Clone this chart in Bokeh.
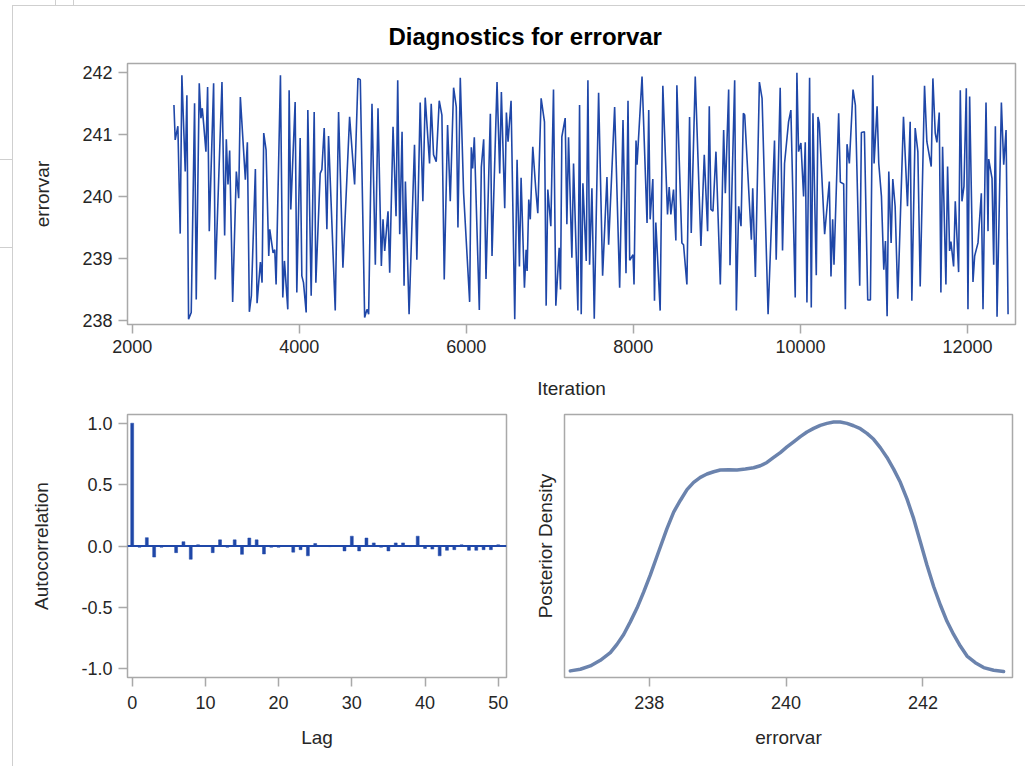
from bokeh.plotting import figure
from bokeh.layouts import column, row
from bokeh.models import FixedTicker, PrintfTickFormatter, Span, Range1d, Spacer
from bokeh.embed import file_html
from bokeh.resources import INLINE

# ---------------- data ----------------
iterations = [
    2500, 2515, 2547, 2575, 2595, 2635, 2655, 2675, 2707, 2747, 2767, 2803, 2823, 2839, 2855, 2883,
    2903, 2923, 2975, 2995, 3075, 3107, 3127, 3147, 3167, 3203, 3247, 3275, 3295, 3355, 3379, 3403,
    3427, 3475, 3495, 3535, 3555, 3575, 3603, 3635, 3647, 3687, 3707, 3723, 3775, 3803, 3823, 3863,
    3879, 3899, 3951, 3971, 4011, 4031, 4051, 4083, 4103, 4143, 4179, 4199, 4251, 4271, 4299, 4331,
    4351, 4431, 4471, 4523, 4603, 4663, 4703, 4731, 4783, 4811, 4831, 4871, 4911, 4943, 4983, 5003,
    5023, 5063, 5083, 5123, 5159, 5179, 5203, 5231, 5255, 5271, 5315,
    5380, 5408, 5448, 5480, 5508, 5560, 5580, 5608, 5640, 5676, 5708, 5736, 5776, 5808, 5848, 5880,
    5900, 5928, 5968, 6040, 6060, 6076, 6096, 6156, 6180, 6208, 6236, 6288, 6308, 6368, 6400, 6420,
    6460, 6480, 6500, 6536, 6580, 6608, 6636, 6656, 6696, 6716, 6728, 6748, 6766,
    6796, 6832, 6856, 6896, 6936, 6956, 6976, 7012, 7044, 7072, 7112, 7128, 7144, 7184, 7204, 7224,
    7264, 7284, 7336, 7356, 7376, 7396, 7436, 7456, 7476, 7504, 7532, 7584, 7632, 7684, 7704, 7776,
    7836, 7876, 7912, 7936, 7956, 7996, 8008, 8032, 8044, 8104, 8164, 8184,
    8201, 8233, 8253, 8269, 8321, 8353, 8409, 8429, 8449, 8481, 8509, 8521, 8581, 8601, 8641, 8673,
    8693, 8741, 8809, 8849, 8889, 8909, 8929, 8953, 8989, 9041, 9081, 9101, 9141, 9157, 9213, 9233,
    9261, 9289, 9317, 9333, 9413, 9429, 9461, 9509, 9541, 9613,
    9690, 9710, 9758, 9786, 9810, 9858, 9886, 9938, 9958, 9978, 10006, 10038, 10058, 10078, 10110,
    10130, 10150, 10190, 10210, 10226, 10290, 10346, 10366, 10386, 10402, 10458, 10478, 10518, 10538,
    10558, 10586, 10630, 10658, 10710, 10730, 10766, 10806, 10838, 10866, 10882, 10918, 10938, 10970,
    10998, 11018, 11038, 11058,
    11086, 11106, 11134, 11166, 11234, 11282, 11314, 11334, 11374, 11406, 11434, 11486, 11514, 11566,
    11586, 11614, 11634, 11662, 11682, 11702, 11742, 11762, 11786, 11802, 11834, 11854, 11894, 11914,
    11934, 11958, 11986, 12006, 12026, 12066, 12086, 12126, 12166, 12186, 12222, 12246, 12254, 12294,
    12314, 12334, 12354, 12406, 12434, 12462, 12486,
]
errorvar_trace = [
    241.47, 240.91, 241.13, 239.40, 241.95, 240.40, 241.63, 238.02, 238.13, 241.50, 238.34, 241.82, 241.26, 241.42, 241.18, 240.72,
    241.76, 239.44, 241.82, 238.66, 241.84, 239.37, 240.92, 240.19, 240.74, 238.30, 240.40, 239.97, 241.60, 240.27, 240.87, 238.14,
    238.40, 240.44, 238.28, 238.94, 238.61, 241.02, 240.75, 239.04, 239.47, 239.09, 239.14, 238.58, 241.95, 238.37, 238.96, 238.18,
    241.71, 239.79, 241.52, 238.45, 240.94, 238.72, 238.61, 238.13, 241.39, 238.40, 241.36, 238.61, 240.37, 240.43, 241.10, 239.47,
    240.97, 238.16, 241.36, 238.85, 241.28, 240.19, 241.90, 241.88, 238.05, 238.18, 238.10, 241.49, 238.90, 241.42, 238.88, 239.63,
    239.12, 239.76, 238.77, 241.12, 239.68, 241.87, 239.39, 241.04, 238.56, 240.24, 238.10,
    240.83, 238.98, 241.51, 239.92, 241.59, 240.53, 241.49, 240.67, 240.56, 241.54, 241.31, 238.66, 241.15, 239.92, 241.75, 241.44,
    239.50, 241.91, 240.05, 238.30, 240.79, 240.45, 240.95, 238.17, 240.47, 240.92, 238.67, 241.33, 239.04, 241.84, 240.37, 241.68,
    239.81, 241.35, 240.88, 241.54, 238.02, 240.59, 238.87, 240.30, 238.53, 239.14, 238.80, 239.95, 239.63,
    240.80, 240.11, 239.73, 241.58, 241.20, 238.24, 240.11, 239.52, 241.72, 238.24, 239.17, 238.50, 240.96, 241.26, 239.55, 240.95,
    239.01, 240.53, 238.16, 241.47, 238.10, 240.21, 238.96, 241.87, 238.90, 240.13, 238.03, 241.67, 238.72, 240.31, 239.22, 241.44,
    238.53, 241.23, 238.76, 241.54, 238.97, 239.06, 238.58, 240.90, 240.51, 241.93, 239.57, 241.39,
    239.63, 240.28, 238.32, 239.58, 238.16, 241.78, 239.71, 240.15, 239.71, 240.11, 239.29, 241.79, 239.25, 239.22, 238.58, 241.28,
    239.41, 241.93, 239.20, 240.67, 239.44, 241.45, 239.79, 239.76, 240.72, 238.58, 241.07, 240.05, 241.72, 238.89, 241.87, 238.16,
    239.84, 239.52, 241.34, 241.31, 239.30, 240.13, 238.70, 241.84, 241.58, 238.10,
    240.90, 238.98, 241.75, 239.13, 240.53, 241.20, 241.39, 238.37, 241.99, 240.72, 240.86, 240.00, 240.87, 238.29, 241.91,
    238.21, 241.34, 238.73, 241.28, 241.18, 239.39, 240.24, 238.71, 239.63, 238.90, 241.34, 240.23, 240.20, 238.18,
    240.84, 240.53, 241.72, 241.47, 238.56, 241.03, 241.04, 238.33, 238.33, 241.95, 240.53, 241.45, 240.53, 240.00,
    238.82, 239.28, 238.07, 240.40,
    239.25, 240.28, 239.84, 238.35, 241.28, 239.84, 241.20, 238.32, 241.10, 240.72, 238.55, 241.78, 240.88, 240.48,
    241.90, 241.02, 240.87, 241.35, 238.45, 240.80, 238.58, 240.48, 239.12, 239.27, 238.87, 239.92, 238.78, 241.71,
    239.92, 240.16, 241.74, 238.18, 241.61, 238.62, 239.04, 239.25, 240.05, 238.18, 241.51, 239.44, 240.60, 240.29,
    238.90, 241.13, 238.06, 241.51, 240.51, 241.07, 238.10,
]

acf_lags = list(range(51))
acf_values = [
    1.00, -0.01, 0.068, -0.09, -0.01, 0.00, -0.054, 0.035, -0.108, 0.01,
    0.00, -0.054, 0.05, -0.01, 0.05, -0.068, 0.065, 0.05, -0.065, -0.01,
    -0.01, 0.00, -0.05, -0.03, -0.08, 0.02, 0.00, -0.005, 0.00, -0.04,
    0.08, -0.04, 0.065, 0.025, -0.01, -0.04, 0.025, 0.025, -0.005, 0.08,
    -0.02, -0.025, -0.08, -0.035, -0.03, 0.01, -0.035, -0.035, -0.03, -0.03,
    0.01,
]

density_x = [236.845, 236.991, 237.137, 237.284, 237.430, 237.527, 237.625, 237.722, 237.820, 237.917,
             238.015, 238.136, 238.258, 238.356, 238.453, 238.551, 238.648, 238.746, 238.843, 238.941,
             239.038, 239.160, 239.282, 239.404, 239.525, 239.623, 239.720, 239.818, 239.915, 240.013,
             240.110, 240.208, 240.305, 240.403, 240.500, 240.597, 240.695, 240.792, 240.890, 240.987,
             241.085, 241.182, 241.280, 241.377, 241.475, 241.572, 241.670, 241.767, 241.865, 241.962,
             242.059, 242.157, 242.254, 242.352, 242.449, 242.547, 242.645, 242.766, 242.888, 243.034,
             243.180]
density_y = [0.0070, 0.0087, 0.0122, 0.0182, 0.0262, 0.0350, 0.0455, 0.0588, 0.0734, 0.0902,
             0.1084, 0.1329, 0.1574, 0.1749, 0.1871, 0.1986, 0.2063, 0.2116, 0.2151, 0.2175,
             0.2193, 0.2196, 0.2193, 0.2203, 0.2217, 0.2238, 0.2273, 0.2326, 0.2378, 0.2437,
             0.2490, 0.2546, 0.2595, 0.2633, 0.2665, 0.2686, 0.2700, 0.2700, 0.2686, 0.2661,
             0.2630, 0.2581, 0.2518, 0.2430, 0.2326, 0.2203, 0.2063, 0.1888, 0.1679, 0.1434,
             0.1189, 0.0962, 0.0769, 0.0594, 0.0455, 0.0332, 0.0227, 0.0157, 0.0105, 0.0077,
             0.0063]

trace_ticks = [2000, 4000, 6000, 8000, 10000, 12000]
trace_yticks = [238, 239, 240, 241, 242]
acf_xticks = [0, 10, 20, 30, 40, 50]
acf_yticks = [-1.0, -0.5, 0.0, 0.5, 1.0]
density_xticks = [238, 240, 242]

# ---------------- style ----------------
FONT = "Liberation Sans"
FRAME = "#a9a9a9"
TXT = "#262626"
BLUE = "#1f47a8"
DENS = "#6b83ad"
EDGE = "#cfcfcf"


def style(p, tick_out=9):
    p.outline_line_color = FRAME
    p.outline_line_width = 1.5
    p.xgrid.visible = False
    p.ygrid.visible = False
    p.background_fill_color = "white"
    p.border_fill_color = "white"
    for ax in p.xaxis + p.yaxis:
        ax.axis_line_color = None
        ax.major_tick_line_color = FRAME
        ax.major_tick_line_width = 1.5
        ax.major_tick_out = tick_out
        ax.major_tick_in = 0
        ax.minor_tick_line_color = None
        ax.major_label_text_font = FONT
        ax.major_label_text_font_size = "18px"
        ax.major_label_text_color = TXT
        ax.major_label_standoff = 6
        ax.axis_label_text_font = FONT
        ax.axis_label_text_font_size = "19px"
        ax.axis_label_text_font_style = "normal"
        ax.axis_label_text_color = TXT


# ---------------- trace plot ----------------
p1 = figure(width=1012, height=404, output_backend="svg", toolbar_location=None,
            x_range=Range1d(1944, 12575), y_range=Range1d(237.936, 242.14),
            min_border_left=114, min_border_right=10, min_border_top=57, min_border_bottom=86)
p1.line(iterations, errorvar_trace, line_color=BLUE, line_width=1.6)
style(p1)
p1.xaxis.ticker = FixedTicker(ticks=trace_ticks)
p1.yaxis.ticker = FixedTicker(ticks=trace_yticks)
p1.xaxis.axis_label = "Iteration"
p1.yaxis.axis_label = "errorvar"
p1.xaxis.axis_label_standoff = 22
p1.yaxis.axis_label_standoff = 26
p1.title.text = "Diagnostics for errorvar"
p1.title.align = "left"
p1.title.offset = 261
p1.title.text_font = FONT
p1.title.text_font_size = "24px"
p1.title.text_font_style = "bold"
p1.title.text_color = "#000000"
p1.title.standoff = 28

# ---------------- autocorrelation ----------------
p2 = figure(width=507, height=356, output_backend="svg", toolbar_location=None,
            x_range=Range1d(-0.64, 51.13), y_range=Range1d(-1.071, 1.071),
            min_border_left=114, min_border_right=14, min_border_top=4, min_border_bottom=89)
p2.add_layout(Span(location=0, dimension="width", line_color=BLUE, line_width=2))
p2.vbar(x=acf_lags, top=acf_values, bottom=0, width=0.4, fill_color=BLUE, line_color=BLUE, line_width=0.5)
style(p2)
p2.xaxis.ticker = FixedTicker(ticks=acf_xticks)
p2.yaxis.ticker = FixedTicker(ticks=acf_yticks)
p2.yaxis.formatter = PrintfTickFormatter(format="%.1f")
p2.xaxis.axis_label = "Lag"
p2.yaxis.axis_label = "Autocorrelation"
p2.xaxis.major_label_standoff = 9
p2.xaxis.axis_label_standoff = 15
p2.yaxis.axis_label_standoff = 26

# ---------------- density ----------------
p3 = figure(width=505, height=356, output_backend="svg", toolbar_location=None,
            x_range=Range1d(236.76, 243.31), y_range=Range1d(0, 0.278),
            min_border_left=44, min_border_right=13, min_border_top=2, min_border_bottom=89)
p3.line(density_x, density_y, line_color=DENS, line_width=3.5, line_join="round", line_cap="round")
style(p3)
p3.xaxis.ticker = FixedTicker(ticks=density_xticks)
p3.yaxis.ticker = FixedTicker(ticks=[])
p3.yaxis.major_tick_out = 0
p3.yaxis.major_label_standoff = 0
p3.yaxis.axis_label_standoff = 9
p3.xaxis.axis_label = "errorvar"
p3.yaxis.axis_label = "Posterior Density"
p3.xaxis.major_label_standoff = 9
p3.xaxis.axis_label_standoff = 15

# ---------------- page frame (screenshot borders) ----------------
edge = {"background-color": EDGE}
left_col = column(
    Spacer(width=12, height=159), Spacer(width=12, height=1, styles=edge),
    Spacer(width=12, height=87), Spacer(width=12, height=1, styles=edge),
    Spacer(width=12, height=518),
)
vline = column(Spacer(width=1, height=5), Spacer(width=1, height=761, styles=edge))
top_strip = row(
    Spacer(width=42, height=5), Spacer(width=1, height=5, styles=edge),
    Spacer(width=17, height=5), Spacer(width=1, height=5, styles=edge),
    Spacer(width=951, height=5),
)
top_line = Spacer(width=1012, height=1, styles=edge)

main = column(top_strip, top_line, p1, row(p2, p3))
page = row(left_col, vline, main)

open("out.html", "w").write(file_html(page, INLINE, title="Diagnostics for errorvar"))
